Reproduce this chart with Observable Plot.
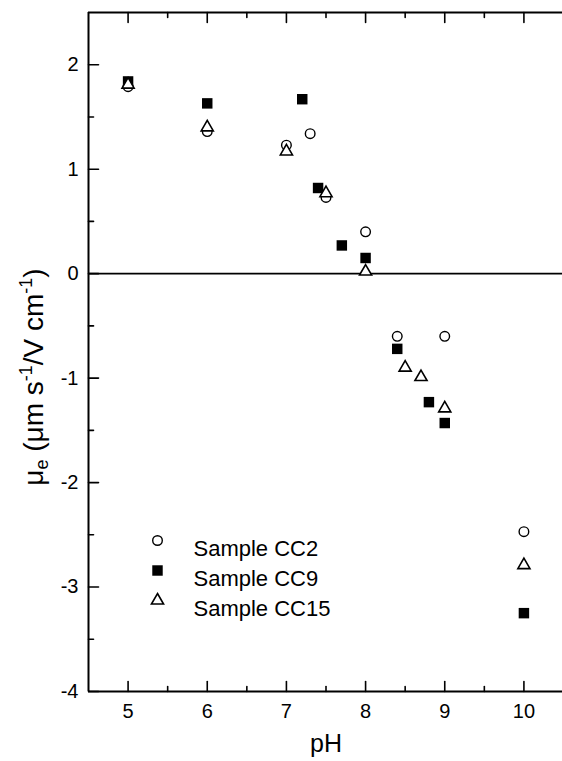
<!DOCTYPE html>
<html><head><meta charset="utf-8">
<script src="https://cdn.jsdelivr.net/npm/d3@7"></script>
<script src="https://cdn.jsdelivr.net/npm/@observablehq/plot@0.6"></script>
<style>body{margin:0;background:#fff}</style>
</head><body><div id="chart"></div>
<script>
// ---- data ----
const pHCC2 = [5, 6, 7, 7.3, 7.5, 8, 8.4, 9, 10];
const muCC2 = [1.79, 1.36, 1.23, 1.34, 0.73, 0.40, -0.60, -0.60, -2.47];
const pHCC9 = [5, 6, 7.2, 7.4, 7.7, 8, 8.4, 8.8, 9, 10];
const muCC9 = [1.84, 1.63, 1.67, 0.82, 0.27, 0.15, -0.72, -1.23, -1.43, -3.25];
const pHCC15 = [5, 6, 7, 7.5, 8, 8.5, 8.7, 9, 10];
const muCC15 = [1.81, 1.40, 1.17, 0.77, 0.02, -0.90, -0.99, -1.29, -2.79];
const legendLabels = ["Sample CC2", "Sample CC9", "Sample CC15"];
const xDomain = [4.5, 10.5];
const yDomain = [-4, 2.5];
const xMajor = [5, 6, 7, 8, 9, 10];
const xMinor = [5.5, 6.5, 7.5, 8.5, 9.5];
const yMajor = [-4, -3, -2, -1, 0, 1, 2];
const yMinor = [-3.5, -2.5, -1.5, -0.5, 0.5, 1.5];

const toRows = (xs, ys) => xs.map((x, i) => ({pH: x, mu: ys[i]}));
const cc2 = toRows(pHCC2, muCC2);
const cc9 = toRows(pHCC9, muCC9);
const cc15 = toRows(pHCC15, muCC15);

const FONT = "'Liberation Sans', Arial, Helvetica, sans-serif";
const line = (dx, dy) => ({draw(ctx, l) { ctx.moveTo(0, 0); ctx.lineTo(dx * l, dy * l); }});
const tickV = (data, k, anchor, len, dir) => Plot.vector(data, {
  [k]: d => d, frameAnchor: anchor, length: len, anchor: "start",
  shape: line(dir[0], dir[1]), stroke: "black", strokeWidth: 1.6
});

const circleStyle = {symbol: "circle", r: 4.8, stroke: "black", fill: "white", strokeWidth: 1.4};
const squareStyle = {symbol: "square", r: 5.9, fill: "black", stroke: "none"};
const triStyle = {symbol: "triangle", r: 4.5, stroke: "black", fill: "white", strokeWidth: 1.6};
const styles = [circleStyle, squareStyle, triStyle];
const fmt = d => String(d);

const plot = Plot.plot({
  width: 562,
  height: 761,
  marginLeft: 88,
  marginRight: -1,
  marginTop: 12,
  marginBottom: 70,
  style: {fontFamily: FONT, fontSize: "20px", color: "black", background: "white"},
  x: {domain: xDomain, label: null},
  y: {domain: yDomain, label: null},
  marks: [
    Plot.ruleY([0], {stroke: "black", strokeWidth: 1.8}),
    Plot.ruleX([xDomain[0]], {stroke: "black", strokeWidth: 2}),
    Plot.ruleY(yDomain, {stroke: "black", strokeWidth: 2}),
    tickV(xMajor, "x", "bottom", 10, [0, -1]),
    tickV(xMinor, "x", "bottom", 5, [0, -1]),
    tickV(xMajor, "x", "top", 10, [0, 1]),
    tickV(xMinor, "x", "top", 5, [0, 1]),
    tickV(yMajor, "y", "left", 10, [1, 0]),
    tickV(yMinor, "y", "left", 5, [1, 0]),
    Plot.axisX(xMajor, {tickSize: 0, tickPadding: 12, fontSize: 20, tickFormat: fmt, label: null}),
    Plot.axisY(yMajor, {tickSize: 0, tickPadding: 10, fontSize: 20, tickFormat: fmt, label: null}),
    Plot.text(["pH"], {frameAnchor: "bottom", dy: 52, fontSize: 25, lineAnchor: "middle"}),
    Plot.dot(cc2, {x: "pH", y: "mu", ...circleStyle}),
    Plot.dot(cc9, {x: "pH", y: "mu", ...squareStyle}),
    Plot.dot(cc15, {x: "pH", y: "mu", ...triStyle}),
    ...legendLabels.map((lab, i) => Plot.dot([lab], {frameAnchor: "top-left", dx: 69, dy: 528 + 30 * i, ...styles[i]})),
    ...legendLabels.map((lab, i) => Plot.text([lab], {text: d => d, frameAnchor: "top-left", dx: 105, dy: 528 + 30 * i, textAnchor: "start", fontSize: 22}))
  ]
});
document.getElementById("chart").appendChild(plot);

// y-axis title with sub/superscripts
const svg = d3.select(plot);
const t = svg.append("text")
  .attr("transform", "translate(33,377) rotate(-90)")
  .attr("text-anchor", "middle")
  .attr("dy", "0.35em")
  .attr("font-family", FONT)
  .attr("font-size", 28)
  .attr("fill", "black");
t.append("tspan").text("\u03bc");
t.append("tspan").attr("font-size", 18).attr("dy", 5).text("e");
t.append("tspan").attr("dy", -5).text(" (\u03bcm s");
t.append("tspan").attr("font-size", 18).attr("dy", -11).text("-1");
t.append("tspan").attr("dy", 11).text("/V cm");
t.append("tspan").attr("font-size", 18).attr("dy", -11).text("-1");
t.append("tspan").attr("dy", 11).text(")");
</script>
</body></html>
